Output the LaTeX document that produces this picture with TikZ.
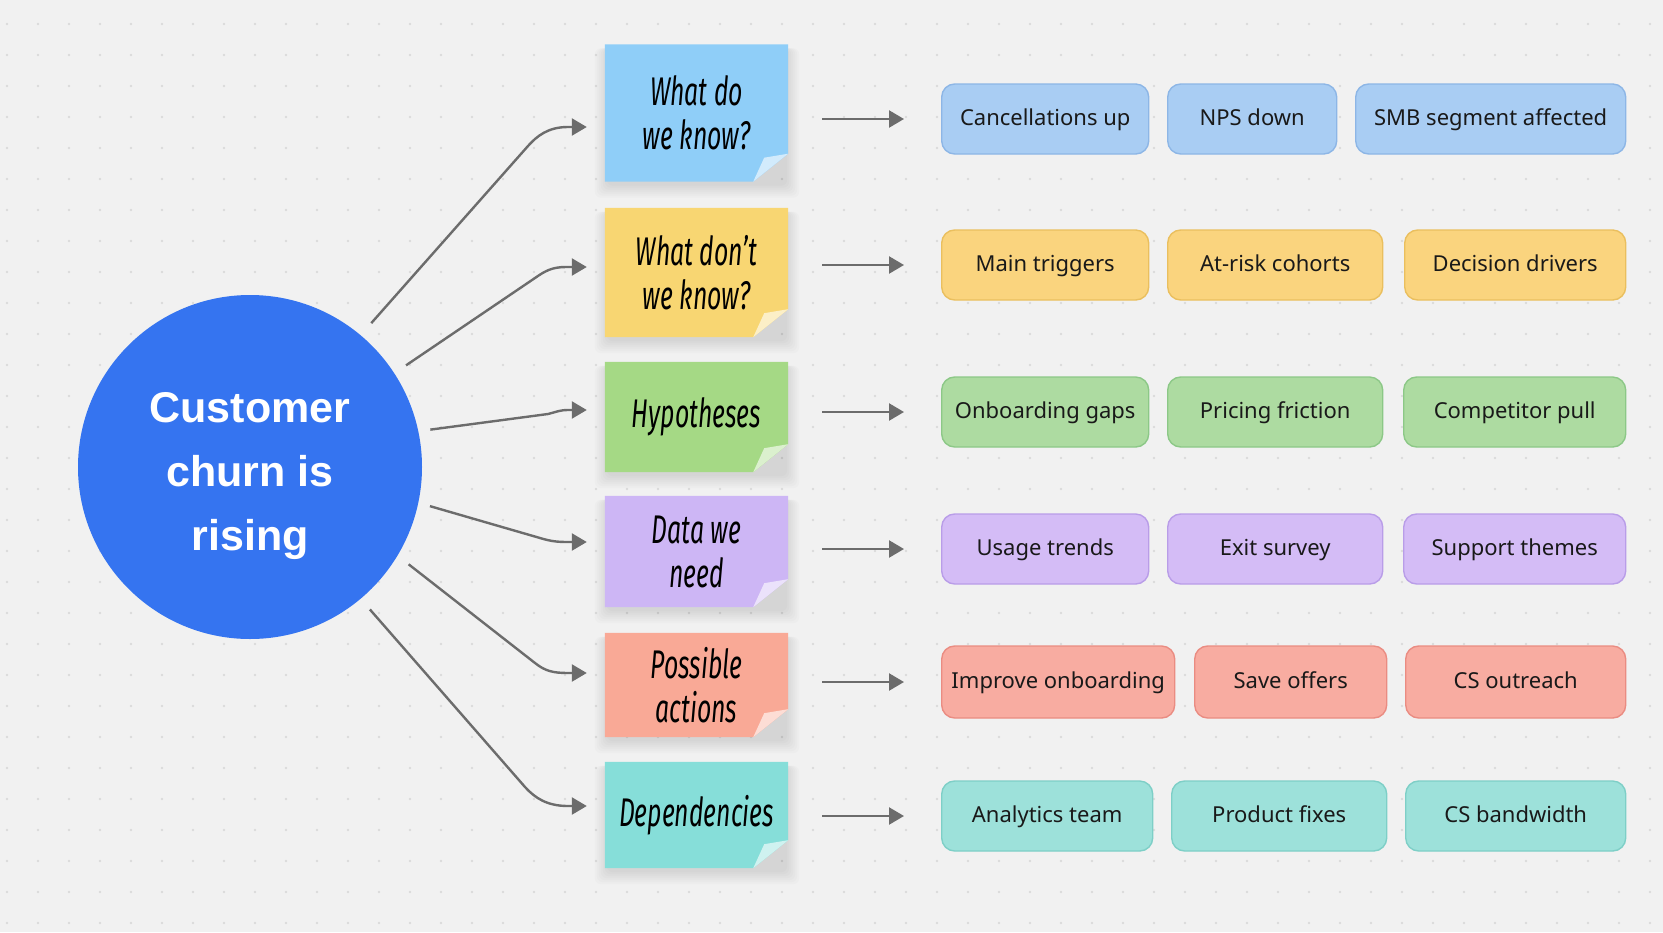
\documentclass[tikz,border=0pt]{standalone}
\usepackage{fontspec}
\setmainfont{Noto Sans}
\newfontfamily\circfont{Liberation Sans}
\newfontfamily\hand[FakeStretch=0.62]{Fira Sans}
\usetikzlibrary{arrows.meta,calc}
\pgfdeclarelayer{bg}\pgfdeclarelayer{shp}\pgfsetlayers{bg,shp,main}
\definecolor{bgc}{HTML}{F1F1F1}
\definecolor{dotc}{HTML}{DADADA}
\definecolor{circc}{HTML}{3574F0}
\definecolor{argray}{HTML}{6C6C6C}
\definecolor{sb}{HTML}{8FCEF8}\definecolor{sy}{HTML}{F8D672}\definecolor{sg}{HTML}{A5D985}
\definecolor{sp}{HTML}{CDB6F5}\definecolor{sr}{HTML}{F9A996}\definecolor{st}{HTML}{86DED9}
\definecolor{pb}{HTML}{A9CDF3}\definecolor{pbd}{HTML}{8DB6E6}
\definecolor{py}{HTML}{FAD47E}\definecolor{pyd}{HTML}{EABF5E}
\definecolor{pg}{HTML}{ADDBA1}\definecolor{pgd}{HTML}{8CC887}
\definecolor{pp}{HTML}{D4BCF6}\definecolor{ppd}{HTML}{B99DE8}
\definecolor{pr}{HTML}{F8ACA1}\definecolor{prd}{HTML}{EA8C82}
\definecolor{pt}{HTML}{9DE1DA}\definecolor{ptd}{HTML}{7ECFC7}
\tikzset{
  conn/.style={draw=argray, line width=2.4pt, -{Triangle[length=15pt,width=17pt]}},
  pill/.style={draw, line width=1.4pt, rounded corners=13pt, minimum height=70pt, anchor=west,
    inner sep=0pt, text height=16pt, text depth=4pt, font=\fontsize{22}{26}\selectfont, text=black!90},
  stickytext/.style={minimum width=183pt, inner sep=0pt, align=center,
    font=\hand\itshape\fontsize{40}{44}\selectfont, text=black},
}
\newcommand\stickyshape[2]{%
  \begin{pgfonlayer}{shp}
    \foreach \e in {0,2,...,12}{
      \fill[black,opacity=0.015,rounded corners=6pt]
        ([xshift=-\e pt+2pt, yshift=-4pt-\e pt]#1.south west) rectangle ([xshift=\e pt-1pt, yshift=-4pt]#1.north east);
    }
    \fill[#2] (#1.north west) -- (#1.north east) -- ([yshift=28pt]#1.south east)
      -- ([xshift=-35pt]#1.south east) -- (#1.south west) -- cycle;
    \fill[#2!40!white] ([yshift=28pt]#1.south east)
      .. controls ([xshift=-12pt,yshift=26pt]#1.south east) .. ([xshift=-24pt,yshift=24pt]#1.south east)
      .. controls ([xshift=-30pt,yshift=12pt]#1.south east) .. ([xshift=-35pt]#1.south east) -- cycle;
  \end{pgfonlayer}}
\begin{document}
\begin{tikzpicture}[x=1pt,y=-1pt]
\useasboundingbox (0,0) rectangle (1663,932);
\begin{pgfonlayer}{bg}
  \fill[bgc] (0,0) rectangle (1663,932);
  \foreach \i in {0,...,53}{\foreach \j in {0,...,29}{\fill[dotc] (7+31*\i,24+31*\j) circle (1.3pt);}}
\end{pgfonlayer}

% central circle
\node[circle, fill=circc, minimum size=344pt, inner sep=0pt] (c) at (250,467) {};
\node[text=white, align=center, inner sep=0pt, font=\circfont\bfseries\fontsize{43}{64}\selectfont]
  (ct) at ([yshift=-9pt]c.center) {Customer\\churn is\\rising};

% sticky notes
\node[stickytext, minimum height=137pt] (s1) at (696.5,113) {What do\\we know?};
\node[stickytext, minimum height=129pt] (s2) at (696.5,272.5) {What don’t\\we know?};
\node[stickytext, minimum height=110pt] (s3) at (696.5,417) {Hypotheses};
\node[stickytext, minimum height=111pt] (s4) at (696.5,551.5) {Data we\\need};
\node[stickytext, minimum height=104pt] (s5) at (696.5,685) {Possible\\actions};
\node[stickytext, minimum height=106pt] (s6) at (696.5,815) {Dependencies};
\stickyshape{s1}{sb}
\stickyshape{s2}{sy}
\stickyshape{s3}{sg}
\stickyshape{s4}{sp}
\stickyshape{s5}{sr}
\stickyshape{s6}{st}

% pills
\node[pill, fill=pb, draw=pbd, minimum width=207pt] (p11) at (941,119) {Cancellations up};
\node[pill, fill=pb, draw=pbd, minimum width=169pt] (p12) at (1167,119) {NPS down};
\node[pill, fill=pb, draw=pbd, minimum width=270pt] (p13) at (1355,119) {SMB segment affected};
\node[pill, fill=py, draw=pyd, minimum width=207pt] (p21) at (941,265) {Main triggers};
\node[pill, fill=py, draw=pyd, minimum width=215pt] (p22) at (1167,265) {At-risk cohorts};
\node[pill, fill=py, draw=pyd, minimum width=221pt] (p23) at (1404,265) {Decision drivers};
\node[pill, fill=pg, draw=pgd, minimum width=207pt] (p31) at (941,412) {Onboarding gaps};
\node[pill, fill=pg, draw=pgd, minimum width=215pt] (p32) at (1167,412) {Pricing friction};
\node[pill, fill=pg, draw=pgd, minimum width=222pt] (p33) at (1403,412) {Competitor pull};
\node[pill, fill=pp, draw=ppd, minimum width=207pt] (p41) at (941,549) {Usage trends};
\node[pill, fill=pp, draw=ppd, minimum width=215pt] (p42) at (1167,549) {Exit survey};
\node[pill, fill=pp, draw=ppd, minimum width=222pt] (p43) at (1403,549) {Support themes};
\node[pill, fill=pr, draw=prd, minimum width=233pt, minimum height=72pt] (p51) at (941,682) {Improve onboarding};
\node[pill, fill=pr, draw=prd, minimum width=192pt, minimum height=72pt] (p52) at (1194,682) {Save offers};
\node[pill, fill=pr, draw=prd, minimum width=220pt, minimum height=72pt] (p53) at (1405,682) {CS outreach};
\node[pill, fill=pt, draw=ptd, minimum width=211pt] (p61) at (941,816) {Analytics team};
\node[pill, fill=pt, draw=ptd, minimum width=215pt] (p62) at (1171,816) {Product fixes};
\node[pill, fill=pt, draw=ptd, minimum width=220pt] (p63) at (1405,816) {CS bandwidth};

% sticky -> pills arrows
\foreach \r in {1,...,6}{
  \draw[conn, shorten <=34pt, shorten >=37pt] (s\r.east |- p\r1.west) -- (p\r1.west);
}

% circle -> sticky connectors
\coordinate (t1) at ([xshift=-18pt,yshift=-14pt]s1.west);
\coordinate (t2) at ([xshift=-18pt,yshift=5.5pt]s2.west);
\coordinate (t3) at ([xshift=-18pt,yshift=7pt]s3.west);
\coordinate (t4) at ([xshift=-18pt,yshift=9.5pt]s4.west);
\coordinate (t5) at ([xshift=-18pt,yshift=12pt]s5.west);
\coordinate (t6) at ([xshift=-18pt,yshift=9pt]s6.west);
\draw[conn, shorten <=16pt] (c.50) -- (528,146) .. controls (537,136) and (548,127) .. (568,127) -- (t1);
\draw[conn, shorten <=14pt] (c.33) -- (535,278) .. controls (545,271) and (552,267) .. (566,267) -- (t2);
\draw[conn, shorten <=12pt] (c.12) -- (548,414) .. controls (556,412) and (560,410) .. (568,410) -- (t3);
\draw[conn, shorten <=12pt] (c.-12) -- (540,538) .. controls (550,541) and (556,542) .. (568,542) -- (t4);
\draw[conn, shorten <=14pt] (c.-31) -- (535,663) .. controls (545,671) and (553,673) .. (568,673) -- (t5);
\draw[conn, shorten <=14pt] (c.-50) -- (525,787) .. controls (535,798) and (547,806) .. (568,806) -- (t6);
\end{tikzpicture}
\end{document}
